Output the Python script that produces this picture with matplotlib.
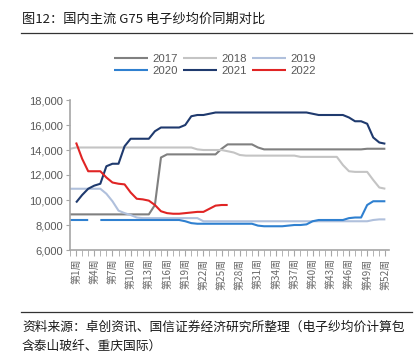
import matplotlib
matplotlib.use('Agg')
import matplotlib.pyplot as plt
import numpy as np
from matplotlib.ticker import FixedLocator, FuncFormatter

plt.rcParams['font.family'] = ['Liberation Sans', 'DejaVu Sans']
CJK = ['Noto Sans CJK SC', 'DejaVu Sans']

nan = np.nan
weeks_full = list(range(0, 53))
weeks_2021 = list(range(1, 53))
weeks_2022 = list(range(1, 27))

p2017 = [8850, 8850, 8850, 8850, 8850, 8850, 8850, 8850, 8850, 8850, 8850, 8850, 8850, 8850,
         9600, 13400, 13650, 13650, 13650, 13650, 13650, 13650, 13650, 13650, 13650,
         14100, 14450, 14450, 14450, 14450, 14450, 14200,
         14050, 14050, 14050, 14050, 14050, 14050, 14050, 14050, 14050, 14050, 14050, 14050,
         14050, 14050, 14050, 14050, 14050, 14100, 14100, 14100, 14100]
p2018 = [14100, 14200, 14200, 14200, 14200, 14200, 14200, 14200, 14200, 14200, 14200,
         14200, 14200, 14200, 14200, 14200, 14200, 14200, 14200, 14200, 14200,
         14050, 14000, 14000, 14000, 14000, 13900, 13800, 13600,
         13550, 13550, 13550, 13550, 13550, 13550, 13550, 13550, 13550,
         13450, 13450, 13450, 13450, 13450, 13450, 13450,
         12800, 12300, 12250, 12250, 12250, 11600, 11000, 10900]
p2019 = [10900, 10900, 10900, 10900, 10900, 10900, 10500, 9900, 9150, 8950, 8800, 8600,
         8550, 8550, 8550, 8550, 8550, 8550, 8550, 8550, 8550, 8550,
         8300, 8300, 8300, 8300, 8300, 8300, 8300, 8300, 8300, 8300, 8300, 8300, 8300, 8300,
         8300, 8300, 8300, 8300, 8300, 8300, 8300, 8300, 8300, 8300, 8300, 8300, 8300, 8300,
         8400, 8450, 8450]
p2020 = [8400, 8400, 8400, 8400, nan, 8400, 8400, 8400, 8400, 8400, 8400, 8400, 8400, 8400,
         8400, 8400, 8400, 8400, 8400, 8300, 8150,
         8100, 8100, 8100, 8100, 8100, 8100, 8100, 8100, 8100, 8100,
         7950, 7900, 7900, 7900, 7900, 7950, 8000, 8000, 8050, 8300,
         8400, 8400, 8400, 8400, 8400, 8550, 8600, 8600, 9600, 9900, 9900, 9900]
p2021 = [9800, 10400, 10900, 11150, 11300, 12700, 12900, 12900, 14300, 14900, 14900, 14900,
         14900, 15500, 15800, 15800, 15800, 15800, 16000, 16700, 16800, 16800, 16900, 17000,
         17000, 17000, 17000, 17000, 17000, 17000, 17000, 17000, 17000, 17000, 17000, 17000,
         17000, 17000, 17000, 16900, 16800, 16800, 16800, 16800, 16800,
         16600, 16300, 16300, 16100, 15000, 14600, 14500]
p2022 = [14600, 13300, 12300, 12300, 12300, 11800, 11400, 11300, 11250, 10600, 10100, 10050,
         9950, 9600, 9100, 8950, 8900, 8900, 8950, 9000, 9050, 9050, 9300, 9550, 9600, 9600]

label_weeks = list(range(1, 53, 3))

fig = plt.figure(figsize=(4.16, 3.54), dpi=100)
W, H = 416.0, 354.0

fig.text(22 / W, 1 - 19 / H, '图12：国内主流 G75 电子纱均价同期对比', family=CJK,
         fontsize=9.5, color='#1a1a1a', va='center', ha='left')
fig.add_artist(plt.Line2D([21 / W, 412 / W], [1 - 33 / H, 1 - 33 / H], color='#333333', lw=0.9))
fig.add_artist(plt.Line2D([21 / W, 412 / W], [1 - 312 / H, 1 - 312 / H], color='#333333', lw=0.9))
fig.text(22 / W, 1 - 327 / H, '资料来源：卓创资讯、国信证券经济研究所整理（电子纱均价计算包',
         family=CJK, fontsize=9.2, color='#1a1a1a', va='center', ha='left')
fig.text(22 / W, 1 - 346 / H, '含泰山玻纤、重庆国际）',
         family=CJK, fontsize=9.2, color='#1a1a1a', va='center', ha='left')

ax = fig.add_axes([70 / W, 1 - 250 / H, 319 / W, 150 / H])

series = [
    ('2017', weeks_full, p2017, '#808080'),
    ('2018', weeks_full, p2018, '#c4c4c4'),
    ('2019', weeks_full, p2019, '#b0c0dc'),
    ('2020', weeks_full, p2020, '#2f80d0'),
    ('2021', weeks_2021, p2021, '#1f3a6e'),
    ('2022', weeks_2022, p2022, '#e02424'),
]
lines = []
for name, x, y, c in series:
    ln, = ax.plot(x, y, color=c, lw=1.5, label=name, solid_capstyle='butt')
    lines.append(ln)

ax.set_xlim(0, 52.6)
ax.set_ylim(6000, 18000)
ax.set_yticks(range(6000, 18001, 2000))
ax.yaxis.set_major_formatter(FuncFormatter(lambda v, p: '{:,.0f}'.format(v)))
ax.xaxis.set_major_locator(FixedLocator(label_weeks))
ax.xaxis.set_minor_locator(FixedLocator(range(0, 53)))
ax.set_xticklabels(['第%d周' % w for w in label_weeks], rotation=90, family=CJK,
                   fontsize=7.2, color='#6a6a6a', va='top', ha='center')
for s in ['top', 'right']:
    ax.spines[s].set_visible(False)
for s in ['left', 'bottom']:
    ax.spines[s].set_color('#a6a6a6')
    ax.spines[s].set_linewidth(1.2)
ax.tick_params(axis='y', length=3, color='#a6a6a6', labelsize=8, labelcolor='#595959', pad=2)
ax.tick_params(axis='x', which='both', length=4, color='#a6a6a6', pad=2)

# legend fills by column, so reorder to get rows 2017-2019 / 2020-2022
order = [0, 3, 1, 4, 2, 5]
fig.legend([lines[i] for i in order], [series[i][0] for i in order],
           loc='center', bbox_to_anchor=(215 / W, 1 - 65 / H), ncol=3, frameon=False,
           fontsize=8.2, labelcolor='#595959', handlelength=3.0, handletextpad=0.4,
           columnspacing=0.4, labelspacing=0.25)

fig.savefig('out.png', dpi=100)
